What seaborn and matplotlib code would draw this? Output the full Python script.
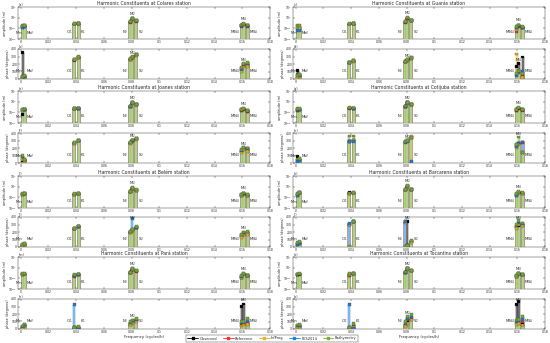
import numpy as np
import pandas as pd
import matplotlib.pyplot as plt
import seaborn as sns
from matplotlib.colors import to_rgb
from matplotlib.lines import Line2D

# --- data ---
constituents = ['Mm', 'Msf', 'O1', 'K1', 'N2', 'M2', 'S2', 'MN4', 'M4', 'MS4']
con_labels = ['Mm', 'Msf', 'O$_1$', 'K$_1$', 'N$_2$', 'M$_2$', 'S$_2$', 'MN$_4$', 'M$_4$', 'MS$_4$']
freqs = [0.001512, 0.002822, 0.038731, 0.041781, 0.078999, 0.080511, 0.083333, 0.159511, 0.161023, 0.163845]
series = ['Observed', 'Reference', 'InfProg', 'FES2014', 'Bathymetry']
colors = ['#000000', '#FF2A2A', '#EDB120', '#1F7FD8', '#77AC30']

# rows: Observed, Reference, InfProg, FES2014, Bathymetry
colares_amp = [[0.15, 0.18, 0.26, 0.28, 0.40, 0.80, 0.50, 0.18, 0.25, 0.18],
               [0.13, 0.16, 0.25, 0.27, 0.38, 0.75, 0.47, 0.16, 0.23, 0.16],
               [0.14, 0.17, 0.26, 0.28, 0.39, 0.78, 0.48, 0.17, 0.24, 0.17],
               [0.12, 0.15, 0.27, 0.29, 0.42, 0.85, 0.52, 0.20, 0.26, 0.20],
               [0.17, 0.20, 0.27, 0.28, 0.44, 0.90, 0.55, 0.21, 0.28, 0.21]]
colares_pha = [[350, 40, 255, 290, 265, 288, 322, 140, 190, 200],
               [25, 35, 250, 288, 262, 285, 320, 120, 175, 185],
               [20, 30, 252, 286, 260, 282, 318, 100, 160, 170],
               [30, 38, 258, 292, 268, 292, 325, 130, 200, 210],
               [35, 42, 260, 295, 270, 296, 330, 150, 210, 225]]

guaras_amp = [[0.15, 0.12, 0.25, 0.27, 0.40, 0.85, 0.55, 0.09, 0.17, 0.12],
              [0.08, 0.07, 0.25, 0.27, 0.38, 0.90, 0.54, 0.05, 0.16, 0.11],
              [0.11, 0.09, 0.26, 0.27, 0.39, 0.92, 0.55, 0.07, 0.17, 0.12],
              [0.06, 0.06, 0.26, 0.28, 0.41, 0.95, 0.57, 0.13, 0.19, 0.13],
              [0.20, 0.17, 0.27, 0.28, 0.42, 1.00, 0.58, 0.15, 0.21, 0.14]]
guaras_pha = [[110, 68, 222, 245, 232, 258, 292, 166, 211, 292],
              [30, 40, 218, 240, 230, 252, 278, 60, 110, 40],
              [20, 30, 215, 238, 228, 250, 276, 333, 95, 22],
              [55, 48, 220, 242, 233, 255, 280, 40, 80, 99],
              [45, 55, 224, 246, 236, 258, 284, 76, 120, 76]]

joanes_amp = [[0.06, 0.18, 0.22, 0.23, 0.36, 0.78, 0.52, 0.15, 0.21, 0.13],
              [0.15, 0.19, 0.21, 0.22, 0.35, 0.75, 0.50, 0.16, 0.20, 0.13],
              [0.16, 0.19, 0.22, 0.23, 0.36, 0.77, 0.51, 0.17, 0.21, 0.14],
              [0.18, 0.20, 0.23, 0.24, 0.38, 0.82, 0.55, 0.19, 0.23, 0.15],
              [0.20, 0.21, 0.24, 0.25, 0.39, 0.85, 0.57, 0.18, 0.24, 0.16]]
joanes_pha = [[30, 40, 268, 298, 270, 300, 322, 166, 200, 190],
              [60, 35, 265, 295, 268, 298, 320, 150, 190, 180],
              [45, 30, 262, 292, 265, 296, 318, 144, 180, 153],
              [80, 45, 272, 302, 274, 304, 326, 160, 205, 195],
              [100, 50, 275, 305, 278, 308, 330, 175, 211, 200]]

cotijuba_amp = [[0.14, 0.18, 0.25, 0.23, 0.37, 0.80, 0.55, 0.16, 0.25, 0.17],
                [0.16, 0.19, 0.24, 0.23, 0.36, 0.78, 0.53, 0.16, 0.24, 0.16],
                [0.17, 0.20, 0.25, 0.23, 0.37, 0.79, 0.54, 0.17, 0.25, 0.17],
                [0.18, 0.20, 0.26, 0.24, 0.38, 0.85, 0.56, 0.17, 0.26, 0.18],
                [0.22, 0.22, 0.30, 0.25, 0.40, 0.90, 0.58, 0.20, 0.30, 0.20]]
cotijuba_pha = [[85, 55, 288, 300, 279, 300, 340, 243, 265, 279],
                [40, 40, 290, 305, 282, 302, 345, 230, 262, 270],
                [30, 35, 292, 306, 280, 298, 352, 211, 260, 140],
                [18, 31, 285, 288, 276, 290, 15, 220, 268, 279],
                [54, 63, 360, 360, 284, 305, 345, 250, 346, 144]]

belem_amp = [[0.20, 0.22, 0.20, 0.22, 0.33, 0.70, 0.45, 0.15, 0.22, 0.15],
             [0.18, 0.21, 0.19, 0.21, 0.32, 0.68, 0.44, 0.14, 0.21, 0.14],
             [0.19, 0.22, 0.20, 0.22, 0.33, 0.69, 0.45, 0.15, 0.22, 0.15],
             [0.21, 0.23, 0.21, 0.23, 0.35, 0.75, 0.48, 0.17, 0.24, 0.17],
             [0.23, 0.24, 0.22, 0.24, 0.36, 0.78, 0.50, 0.18, 0.25, 0.18]]
belem_pha = [[20, 40, 245, 275, 200, 230, 262, 150, 180, 190],
             [25, 35, 242, 272, 198, 226, 260, 140, 170, 180],
             [15, 30, 240, 270, 195, 222, 258, 130, 160, 170],
             [30, 45, 248, 278, 205, 380, 265, 160, 190, 200],
             [35, 50, 250, 280, 210, 235, 270, 170, 200, 210]]

barcarena_amp = [[0.20, 0.28, 0.30, 0.26, 0.50, 1.10, 0.55, 0.20, 0.30, 0.25],
                 [0.15, 0.26, 0.22, 0.25, 0.48, 1.05, 0.53, 0.16, 0.28, 0.23],
                 [0.16, 0.27, 0.24, 0.26, 0.49, 1.07, 0.54, 0.17, 0.29, 0.24],
                 [0.14, 0.28, 0.26, 0.27, 0.52, 1.15, 0.57, 0.15, 0.31, 0.26],
                 [0.22, 0.30, 0.25, 0.27, 0.53, 1.20, 0.58, 0.22, 0.33, 0.27]]
barcarena_pha = [[45, 60, 300, 335, 340, 345, 75, 260, 290, 300],
                 [40, 55, 305, 338, 335, 15, 70, 270, 300, 290],
                 [30, 47, 305, 336, 330, 18, 65, 250, 295, 285],
                 [28, 50, 315, 340, 340, 20, 80, 280, 320, 310],
                 [60, 70, 5, 342, 10, 25, 85, 300, 350, 320]]

para_amp = [[0.24, 0.25, 0.18, 0.22, 0.35, 0.72, 0.48, 0.13, 0.26, 0.18],
            [0.23, 0.25, 0.16, 0.22, 0.34, 0.70, 0.47, 0.12, 0.25, 0.17],
            [0.24, 0.26, 0.17, 0.23, 0.35, 0.71, 0.48, 0.13, 0.26, 0.18],
            [0.25, 0.26, 0.20, 0.24, 0.37, 0.78, 0.50, 0.16, 0.28, 0.19],
            [0.27, 0.28, 0.22, 0.25, 0.38, 0.80, 0.52, 0.18, 0.29, 0.20]]
para_pha = [[15, 45, 18, 10, 60, 90, 110, 300, 333, 70],
            [20, 50, 20, 15, 70, 100, 120, 60, 70, 90],
            [10, 40, 15, 5, 55, 80, 100, 40, 55, 60],
            [30, 60, 324, 25, 80, 110, 130, 80, 90, 110],
            [40, 68, 22, 30, 100, 120, 144, 100, 100, 144]]

tocantins_amp = [[0.22, 0.25, 0.18, 0.27, 0.36, 0.80, 0.50, 0.15, 0.27, 0.22],
                 [0.21, 0.24, 0.20, 0.26, 0.35, 0.78, 0.48, 0.14, 0.26, 0.21],
                 [0.22, 0.25, 0.22, 0.27, 0.36, 0.79, 0.49, 0.15, 0.27, 0.22],
                 [0.23, 0.26, 0.25, 0.28, 0.38, 0.85, 0.52, 0.17, 0.29, 0.23],
                 [0.25, 0.27, 0.27, 0.29, 0.39, 0.88, 0.54, 0.19, 0.30, 0.24]]
tocantins_pha = [[30, 40, 15, 54, 40, 110, 130, 324, 369, 60],
                 [35, 45, 20, 30, 50, 120, 140, 80, 90, 100],
                 [22, 35, 10, 20, 30, 76, 121, 60, 70, 54],
                 [45, 50, 324, 9, 70, 140, 160, 100, 110, 130],
                 [54, 60, 22, 76, 100, 166, 189, 120, 130, 166]]

stations = [('Colares', colares_amp, colares_pha, '(a)', '(b)'),
            ('Guarás', guaras_amp, guaras_pha, '(c)', '(d)'),
            ('Joanes', joanes_amp, joanes_pha, '(e)', '(f)'),
            ('Cotijuba', cotijuba_amp, cotijuba_pha, '(g)', '(h)'),
            ('Belém', belem_amp, belem_pha, '(i)', '(j)'),
            ('Barcarena', barcarena_amp, barcarena_pha, '(k)', '(l)'),
            ('Pará', para_amp, para_pha, '(m)', '(n)'),
            ('Tocantins', tocantins_amp, tocantins_pha, '(o)', '(p)')]

# --- style ---
sns.set_style('ticks')
plt.rcParams['font.family'] = ['DejaVu Sans']
plt.rcParams['axes.linewidth'] = 0.3
W, H = 550, 343
fig = plt.figure(figsize=(5.5, 3.43), dpi=100)

def light(c, f=0.55):
    r, g, b = to_rgb(c)
    return (r + (1 - r) * f, g + (1 - g) * f, b + (1 - b) * f)

def px_axes(x, top, w, h):
    return fig.add_axes([x / W, 1 - (top + h) / H, w / W, h / H])

left_x = [18, 293]
amp_tops = [7, 91, 176, 257]
pha_tops = [49, 133, 217, 299]
left_side = {'Mm', 'O1', 'N2', 'MN4'}
top_side = {'M2', 'M4'}

def draw_panel(ax, vals, kind):
    vals = np.array(vals, dtype=float)
    base = 1e-3 if kind == 'amp' else 0
    for i, s in enumerate(series):
        ax.bar(freqs, vals[i] - base, bottom=base, width=0.0013,
               color=light(colors[i]), edgecolor=colors[i], linewidth=0.3, zorder=2 + i)
    df = pd.DataFrame({'freq': np.tile(freqs, len(series)),
                       'value': vals.ravel(),
                       'series': np.repeat(series, len(freqs))})
    sns.scatterplot(data=df, x='freq', y='value', hue='series', hue_order=series,
                    palette=colors, marker='s', s=4, linewidth=0.2,
                    edgecolor='#333333', legend=False, ax=ax, zorder=10)
    # constituent labels
    for j, c in enumerate(constituents):
        f = freqs[j]
        if c in top_side:
            y = vals[:, j].max() * 2.6 if kind == 'amp' else min(vals[:, j].max() + 45, 385)
            ax.text(f, y, con_labels[j], ha='center', va='center', fontsize=2.8, zorder=12)
        else:
            y = 0.04 if kind == 'amp' else 100
            if c == 'Mm':
                ax.text(f - 0.0003, y, con_labels[j], ha='right', va='center', fontsize=2.6,
                        zorder=12, clip_on=False)
            elif c in left_side:
                ax.text(f - 0.0012, y, con_labels[j], ha='right', va='center', fontsize=2.8,
                        zorder=12, clip_on=False)
            else:
                ax.text(f + 0.0012, y, con_labels[j], ha='left', va='center', fontsize=2.8,
                        zorder=12, clip_on=False)
    ax.set_xlim(-0.002, 0.18)
    ax.set_xticks(np.arange(0, 0.181, 0.02))
    ax.set_xticklabels(['0', '0.02', '0.04', '0.06', '0.08', '0.1', '0.12', '0.14', '0.16', '0.18'])
    ax.set_xlabel('')
    ax.set_ylabel('')

def style_axes(ax):
    ax.tick_params(direction='in', length=1.2, width=0.3, labelsize=2.2, pad=0.6,
                   top=True, right=True, which='both')
    ax.tick_params(which='minor', length=0)

for k, (name, amp, pha, la, lp) in enumerate(stations):
    col = k % 2
    row = k // 2
    x0 = left_x[col]
    ax_a = px_axes(x0, amp_tops[row], 252, 32)
    ax_p = px_axes(x0, pha_tops[row], 252, 30)

    draw_panel(ax_a, amp, 'amp')
    ax_a.set_yscale('log')
    ax_a.set_ylim(1e-2, 1e1)
    ax_a.set_yticks([1e-2, 1e-1, 1e0, 1e1])
    ax_a.set_ylabel('amplitude (m)', fontsize=2.5, labelpad=1)
    ax_a.set_title(f'Harmonic Constituents at {name} station', fontsize=3.3, pad=1.4)
    ax_a.text(0.004, 0.99, la, transform=ax_a.transAxes, fontsize=2.4, ha='left', va='bottom')
    style_axes(ax_a)

    draw_panel(ax_p, pha, 'pha')
    ax_p.set_ylim(0, 400)
    ax_p.set_yticks([0, 100, 200, 300, 400])
    ax_p.set_ylabel('phase (degrees)', fontsize=2.5, labelpad=1)
    ax_p.text(0.004, 0.99, lp, transform=ax_p.transAxes, fontsize=2.4, ha='left', va='bottom')
    style_axes(ax_p)
    if row == 3:
        ax_p.set_xlabel('Frequency (cycles/h)', fontsize=2.8, labelpad=0.5)

handles = [Line2D([0], [0], color=c, lw=0.6, marker='s', markersize=1.5) for c in colors]
leg = fig.legend(handles, series, loc='center', bbox_to_anchor=(272 / W, 1 - 338.5 / H), ncol=5,
                 fontsize=2.6, frameon=True, handlelength=3, columnspacing=1.5,
                 borderpad=0.3, handletextpad=0.4, fancybox=False, edgecolor='black')
leg.get_frame().set_linewidth(0.3)

fig.savefig('out.png', dpi=100)
